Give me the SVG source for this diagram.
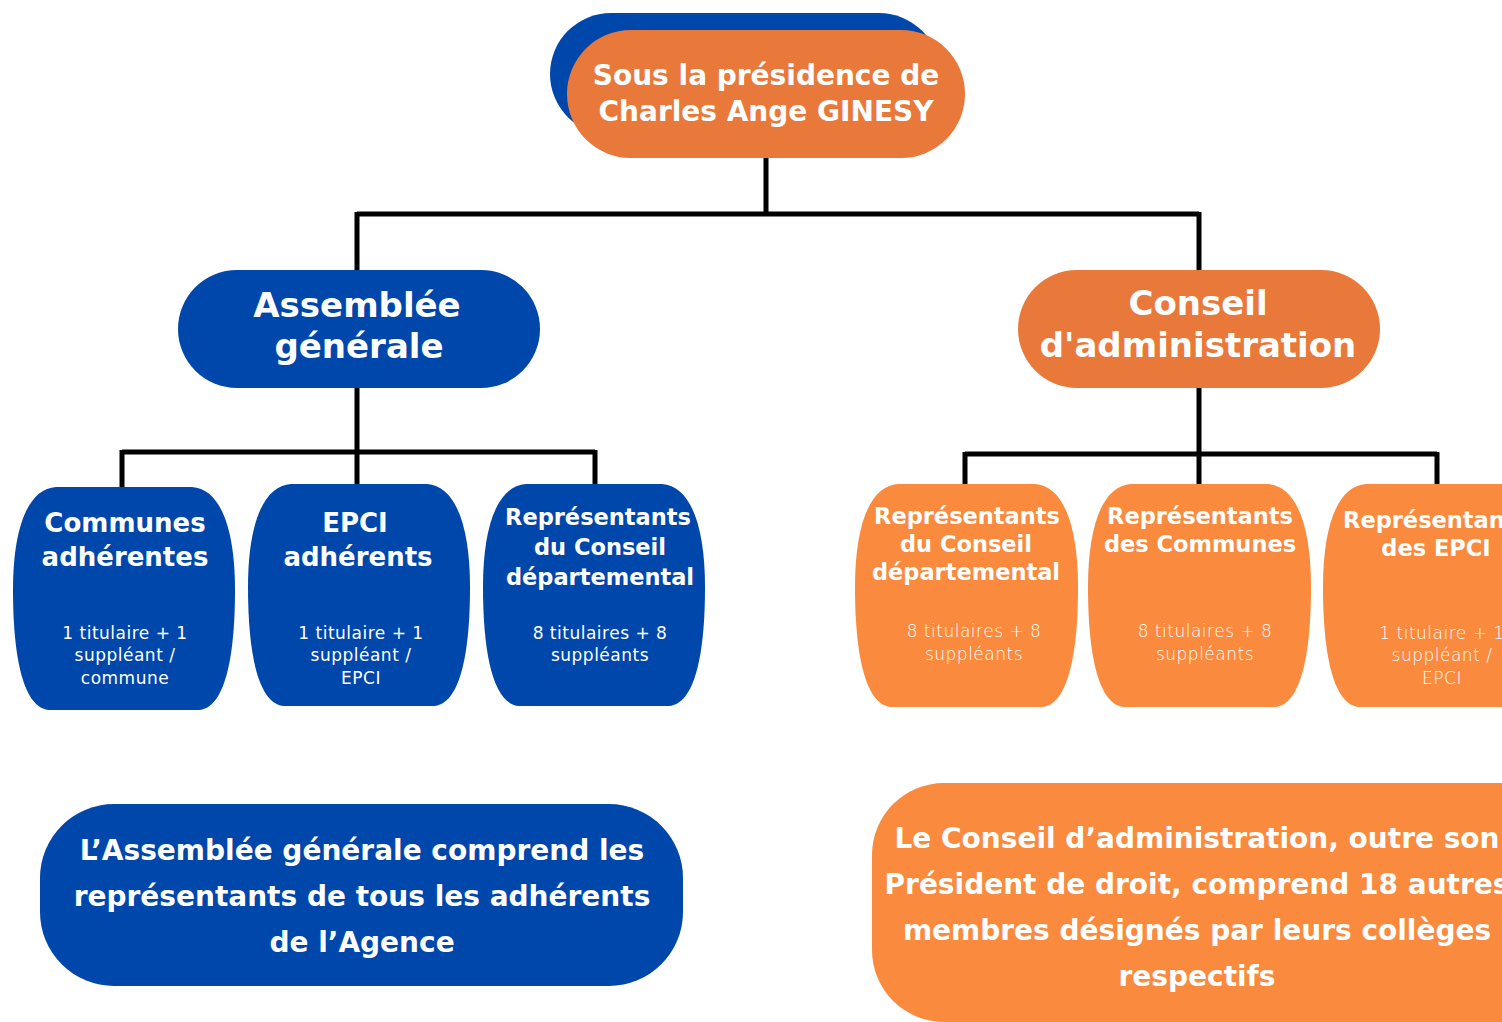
<svg xmlns="http://www.w3.org/2000/svg" width="1502" height="1022" viewBox="0 0 1502 1022">
<style>
text{font-family:"DejaVu Sans","Liberation Sans",sans-serif;fill:#fff;text-anchor:middle}
.b{font-weight:bold}
.t1{font-size:28px}
.t2{font-size:34px}
.t3{font-size:26px}
.t4{font-size:22.5px}
.s{font-size:17px;letter-spacing:0.5px}
.lt{font-weight:200}
.blue{fill:#0047AB}
.or{fill:#E8793A}
.ol{fill:#F98A3E}
.c{fill:none;stroke:#000;stroke-width:5}
</style>
<rect width="1502" height="1022" fill="#fff"/>
<g id="connectors">
<path class="c" d="M766,158 V214 M357,214 H1199 M357,212 V272 M1199,212 V272"/>
<path class="c" d="M357,388 V452 M122,452 H595 M122,450 V489 M357,450 V486 M595,450 V486"/>
<path class="c" d="M1199,388 V454 M965,454 H1437 M965,452 V486 M1199,452 V486 M1437,452 V486"/>
</g>
<g id="president">
<rect class="blue" x="550" y="13" width="390" height="122" rx="61"/>
<rect class="or" x="567" y="30" width="398" height="128" rx="64"/>
<text class="b t1" x="766" y="85">Sous la présidence de</text>
<text class="b t1" x="766" y="121">Charles Ange GINESY</text>
</g>
<g id="assemblee">
<rect class="blue" x="178" y="270" width="362" height="118" rx="59"/>
<text class="b t2" x="357" y="317">Assemblée</text>
<text class="b t2" x="359" y="358">générale</text>
</g>
<g id="conseil">
<rect class="or" x="1018" y="270" width="362" height="118" rx="59"/>
<text class="b t2" x="1198" y="315">Conseil</text>
<text class="b t2" x="1198" y="357">d'administration</text>
</g>
<g id="communes">
<path class="blue" d="M56,487 H192 C221,489 235,530 235,590 C235,660 224,708 199,710 H49 C24,708 13,660 13,590 C13,530 27,489 56,487 Z"/>
<text class="b t3" x="125" y="532">Communes</text>
<text class="b t3" x="125" y="566">adhérentes</text>
<text class="s" x="125" y="639">1 titulaire + 1</text>
<text class="s" x="125" y="661">suppléant /</text>
<text class="s" x="125" y="684">commune</text>
</g>
<g id="epci">
<path class="blue" d="M291,484 H427 C456,486 470,527 470,587 C470,657 459,704 434,706 H284 C259,704 248,657 248,587 C248,527 262,486 291,484 Z"/>
<text class="b t3" x="355" y="532">EPCI</text>
<text class="b t3" x="358" y="566">adhérents</text>
<text class="s" x="361" y="639">1 titulaire + 1</text>
<text class="s" x="361" y="661">suppléant /</text>
<text class="s" x="361" y="684">EPCI</text>
</g>
<g id="ag-cd">
<path class="blue" d="M526,484 H662 C691,486 705,527 705,587 C705,657 694,704 669,706 H519 C494,704 483,657 483,587 C483,527 497,486 526,484 Z"/>
<text class="b t4" x="598" y="525">Représentants</text>
<text class="b t4" x="600" y="555">du Conseil</text>
<text class="b t4" x="600" y="585">départemental</text>
<text class="s" x="600" y="639">8 titulaires + 8</text>
<text class="s" x="600" y="661">suppléants</text>
</g>
<g id="ca-cd">
<path class="ol" d="M898,484 H1035 C1064,486 1078,527 1078,587 C1078,657 1067,705 1042,707 H891 C866,705 855,657 855,587 C855,527 869,486 898,484 Z"/>
<text class="b t4" x="967" y="524">Représentants</text>
<text class="b t4" x="966" y="552">du Conseil</text>
<text class="b t4" x="966" y="580">départemental</text>
<text class="s lt" x="974" y="637">8 titulaires + 8</text>
<text class="s lt" x="974" y="660">suppléants</text>
</g>
<g id="ca-communes">
<path class="ol" d="M1131,484 H1268 C1297,486 1311,527 1311,587 C1311,657 1300,705 1275,707 H1124 C1099,705 1088,657 1088,587 C1088,527 1102,486 1131,484 Z"/>
<text class="b t4" x="1200" y="524">Représentants</text>
<text class="b t4" x="1200" y="552">des Communes</text>
<text class="s lt" x="1205" y="637">8 titulaires + 8</text>
<text class="s lt" x="1205" y="660">suppléants</text>
</g>
<g id="ca-epci">
<path class="ol" d="M1366,484 H1503 C1532,486 1546,527 1546,587 C1546,657 1535,705 1510,707 H1359 C1334,705 1323,657 1323,587 C1323,527 1337,486 1366,484 Z"/>
<text class="b t4" x="1436" y="528">Représentants</text>
<text class="b t4" x="1436" y="556">des EPCI</text>
<text class="s lt" x="1442" y="639">1 titulaire + 1</text>
<text class="s lt" x="1442" y="661">suppléant /</text>
<text class="s lt" x="1442" y="684">EPCI</text>
</g>
<g id="ag-note">
<rect class="blue" x="40" y="804" width="643" height="182" rx="74"/>
<text class="b t1" x="362" y="860">L’Assemblée générale comprend les</text>
<text class="b t1" x="362" y="906">représentants de tous les adhérents</text>
<text class="b t1" x="362" y="952">de l’Agence</text>
</g>
<g id="ca-note">
<rect class="ol" x="872" y="783" width="700" height="239" rx="72"/>
<text class="b t1" x="1197" y="848">Le Conseil d’administration, outre son</text>
<text class="b t1" x="1197" y="894">Président de droit, comprend 18 autres</text>
<text class="b t1" x="1197" y="940">membres désignés par leurs collèges</text>
<text class="b t1" x="1197" y="986">respectifs</text>
</g>
</svg>
